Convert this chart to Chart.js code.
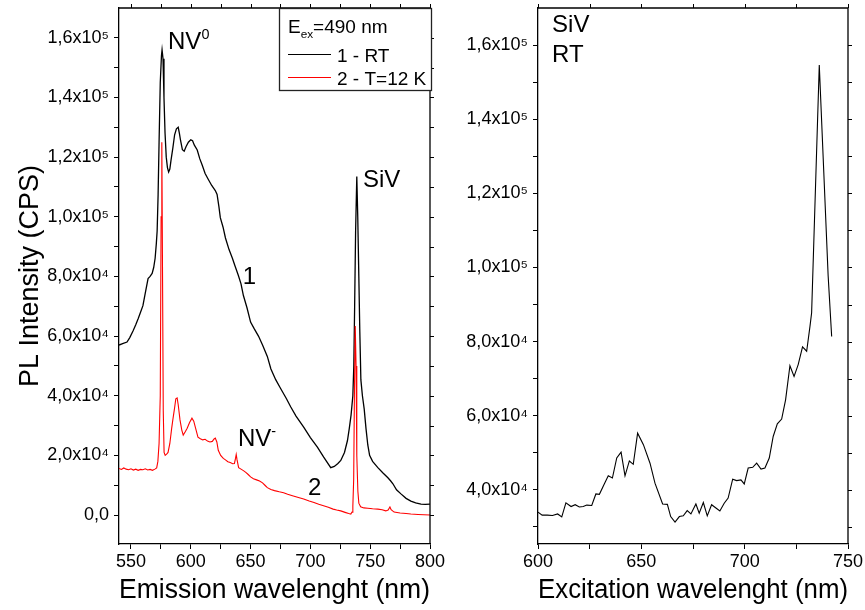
<!DOCTYPE html>
<html>
<head>
<meta charset="utf-8">
<script src="https://cdn.jsdelivr.net/npm/chart.js@4/dist/chart.umd.min.js"></script>
<style>
  html, body { margin: 0; padding: 0; background: #ffffff; }
  #wrap { position: relative; width: 865px; height: 610px; overflow: hidden; background: #fff; }
  #left { position: absolute; left: 0; top: 0; }
  #right { position: absolute; left: 440px; top: 0; }
</style>
</head>
<body>
<div id="wrap">
  <canvas id="right" width="425" height="610"></canvas>
  <canvas id="left" width="460" height="610"></canvas>
</div>
<script>
// ---------------- DATA ----------------
// Curve 1 - RT (emission spectrum)
const rtNm = [540,543,546.7,549,551.7,554,556,558,560,562,564.3,566,567.7,569,570.2,571.2,571.9,572.7,573.5,574.5,575.5,576,576.8,577.6,578.5,579.5,580.5,581.5,582.5,583.5,585,586.5,588,589.5,590.5,591.5,593,594.5,596,598,600,601.5,603,605.4,607.5,609.6,612,614.7,617.5,620.5,622,623.5,624.7,627,629,632,634.8,637,639.8,642,644,647,650,653,656.6,660,664,667,671,675,680,683.5,688,694.4,700,706,711,717,720,723,725.4,728.5,731,732.5,734,735.5,736.3,737,737.8,738.8,739.6,740.5,741.3,742.2,743.5,745,746.5,748,749.5,752,756.4,760.5,764.8,767,769,772,775.7,780,784,788,792.5,796,800];
const rtCps = [57000,57500,58000,59500,61700,63800,65800,68000,70200,74500,79300,80000,81000,83000,86100,91000,95300,107500,125000,145000,154000,156000,153000,140000,128000,120000,116500,115000,116000,119000,123000,127500,129500,130000,128000,125500,122500,122000,123500,125000,125800,125500,124000,122400,119500,117300,114500,112500,110500,108800,107500,103500,99700,96500,92900,89000,86100,83500,80300,77500,73600,69500,64700,62500,60000,57000,53200,49000,45400,42500,39000,36300,33200,29500,26000,22700,19500,15900,16300,17300,18300,21000,25000,29000,33500,40000,50000,70000,95000,113500,100000,80000,62000,45400,40000,35500,29000,23500,20000,18000,15900,14200,12500,11500,10500,8500,7100,5600,4700,4100,3700,3600,3700];
// Curve 2 - T=12 K (emission spectrum)
const lowTNm = [540,542,544,546,548,550,552,554,556,558,560,562,564,566,568,570,571.5,572.5,573.5,574.5,575.2,575.8,576.4,577,577.7,578.6,580,581,582.5,584,585,586.5,587.5,588.6,589.5,591,592.5,593.7,595.5,597,599,601,602.5,603.8,606,608,610,612,614,616,618,619.5,620.5,621.8,623,625,627.2,629,631,633,635,636.5,637.4,638,638.7,640,642,644,646,648,650,652.4,655,657.5,660,662,664,667,670,674,677.6,681,685,690,694.4,699,703,707,711,715,719,722,725.4,729,732,733.8,734.8,735.5,736.2,736.8,737.5,738.2,738.8,739.7,740.5,742,744.7,748,752,756.4,760,763,765,766.5,767.5,770,775,780,784,790,795,800];
const lowTCps = [15600,15300,15800,15400,15200,15500,15100,15400,15000,15300,15200,15500,15100,15300,15000,15400,15800,18000,24000,40000,100000,125000,80000,35000,21000,20000,20500,21000,24000,29000,31900,36000,39000,39300,37000,31900,28500,26800,28000,29100,31000,32500,31500,29500,26100,25600,25200,25400,24800,24500,24700,25500,25800,24500,21700,20000,19000,18500,17900,17600,17200,17300,19000,20300,18500,15900,15400,14900,14300,13600,12800,12200,11800,11400,10800,10000,9200,8600,8200,7800,7500,7000,6500,5900,5400,4700,4200,3600,3100,2600,2000,1700,1400,900,500,340,1000,3000,12000,40000,63400,50000,20000,8000,4000,2800,2400,2300,2100,2000,1800,1400,1700,2700,1800,1000,700,500,340,200,100,0];
// SiV RT excitation spectrum
const excNm = [600,602,604.5,607,609.5,611.5,613.5,616,618,620,621.9,623.6,626,628,629.7,631.9,634,636,638.1,640.2,642.1,644.2,646.1,648.2,651,654.2,656.6,660.3,662.6,664.2,666.3,668.4,670.3,672.2,674,676.4,678,680,681.9,684,686.1,688,690.1,692,694.2,696.1,698.2,699.8,701.7,703.9,705.8,707.9,709.8,711.9,713.8,715.8,717.9,719.8,721.9,723.9,725.9,728,730,731.6,732.4,736.1,740.4,742.1];
const excCps = [34000,33200,33200,33100,33500,32700,36500,35500,36000,35400,35500,35900,35800,38900,38800,41400,43800,43200,48600,50200,43800,47800,46900,55300,52200,47200,41800,36200,36100,32800,31300,32800,33000,34400,33500,36200,33700,36600,33000,36000,35100,34300,36400,37800,42900,42500,42700,41600,45900,46100,47200,45600,45900,48600,54400,57800,59100,64300,73500,70600,73800,78600,77400,84100,87800,154600,97700,81400];

// Tick values
const emissionMajorTicks = [550,600,650,700,750,800];
const emissionMinorTicks = [575,625,675,725,775];
const excitationMajorTicks = [600,650,700,750];
const excitationMinorTicks = [625,675,725];
const leftMajorTicks = [0,20000,40000,60000,80000,100000,120000,140000,160000];
const leftMinorTicks = [10000,30000,50000,70000,90000,110000,130000,150000];
const rightMajorTicks = [40000,60000,80000,100000,120000,140000,160000];
const rightMinorTicks = [30000,50000,70000,90000,110000,130000,150000];

// Series labels
const seriesLabels = ['1 - RT','2 - T=12 K'];
const legendTitle = [['E',''],['ex','sub'],['=490 nm','']];

// Text annotations (anchored in data space)
const emissionNotes = [
  {parts:[['NV',''],['0','sup']], x:581, y:159000, align:'left'},
  {parts:[['SiV','']], x:743.9, y:113000, align:'left'},
  {parts:[['1','']], x:649, y:80400, align:'center'},
  {parts:[['NV',''],['-','sup']], x:639.5, y:26000, align:'left'},
  {parts:[['2','']], x:703.6, y:9700, align:'center'}
];
const excitationNotes = [
  {parts:[['SiV','']], x:606.8, y:165800, align:'left'},
  {parts:[['RT','']], x:606.8, y:157700, align:'left'}
];

// ---------------- HELPERS ----------------
Chart.defaults.font.family = "'Liberation Sans', Arial, Helvetica, sans-serif";
Chart.defaults.color = '#000';
const FONT = "'Liberation Sans', Arial, Helvetica, sans-serif";
const SUP = {'0':'\u2070','1':'\u00B9','2':'\u00B2','3':'\u00B3','4':'\u2074','5':'\u2075','6':'\u2076','7':'\u2077','8':'\u2078','9':'\u2079'};
function sciLabel(v) {
  if (v === 0) return '0,0';
  const e = Math.floor(Math.log10(v) + 1e-9);
  const m = v / Math.pow(10, e);
  return m.toFixed(1).replace('.', ',') + 'x10' + String(e).split('').map(c => SUP[c]).join('');
}
function xy(xs, ys) { return xs.map((x, i) => ({x: x, y: ys[i]})); }

function drawRich(ctx, x, yMid, parts, size, align) {
  const pieces = parts.map(p => {
    const kind = p[1];
    const fs = kind === 'sup' ? size * 0.6 : (kind === 'sub' ? size * 0.62 : size);
    ctx.font = fs + 'px ' + FONT;
    return {t: p[0], kind: kind, fs: fs, w: ctx.measureText(p[0]).width};
  });
  const total = pieces.reduce((s, p) => s + p.w, 0);
  let cx = align === 'center' ? x - total / 2 : (align === 'right' ? x - total : x);
  const base = yMid + 0.36 * size;
  ctx.textAlign = 'left';
  ctx.textBaseline = 'alphabetic';
  ctx.fillStyle = '#000';
  pieces.forEach(p => {
    ctx.font = p.fs + 'px ' + FONT;
    let by = base;
    if (p.kind === 'sup') by = base - 0.42 * size;
    if (p.kind === 'sub') by = base + 0.28 * size;
    ctx.fillText(p.t, cx, by);
    cx += p.w + (p.kind === 'sup' ? 1 : 0);
  });
}

const decorPlugin = {
  id: 'decor',
  afterDatasetsDraw(chart, args, opts) {
    const ctx = chart.ctx, a = chart.chartArea, xs = chart.scales.x, ys = chart.scales.y;
    ctx.save();
    ctx.strokeStyle = '#000';
    ctx.lineWidth = 1.3;
    ctx.beginPath();
    ctx.moveTo(a.left, a.top); ctx.lineTo(a.right, a.top); ctx.lineTo(a.right, a.bottom);
    ctx.stroke();
    ctx.lineWidth = 1;
    xs.ticks.forEach(t => {
      const px = Math.round(xs.getPixelForValue(t.value)) + 0.5;
      ctx.beginPath(); ctx.moveTo(px, a.top); ctx.lineTo(px, a.top - 4); ctx.stroke();
    });
    ys.ticks.forEach(t => {
      const py = Math.round(ys.getPixelForValue(t.value)) + 0.5;
      ctx.beginPath(); ctx.moveTo(a.right, py); ctx.lineTo(a.right + 4, py); ctx.stroke();
    });
    (opts.notes || []).forEach(n => {
      drawRich(ctx, xs.getPixelForValue(n.x), ys.getPixelForValue(n.y), n.parts, opts.noteSize || 24, n.align);
    });
    if (opts.legend) {
      const w = 153, h = 83;
      const bx = a.right + 2 - w, by = a.top;
      ctx.fillStyle = '#fff';
      ctx.fillRect(bx, by, w, h);
      ctx.strokeStyle = '#222';
      ctx.lineWidth = 1.3;
      ctx.strokeRect(bx + 0.5, by + 0.5, w - 1, h - 1);
      drawRich(ctx, bx + 9, by + 18, legendTitle, 19, 'left');
      chart.data.datasets.forEach((ds, i) => {
        const ly = by + 46 + i * 23;
        ctx.strokeStyle = ds.borderColor;
        ctx.lineWidth = 1.2;
        ctx.beginPath(); ctx.moveTo(bx + 9, ly + 0.5); ctx.lineTo(bx + 52, ly + 0.5); ctx.stroke();
        drawRich(ctx, bx + 58, ly + 1, [[ds.label, '']], 19, 'left');
      });
    }
    ctx.restore();
  }
};

function xAxis(min, max, major, minor, title) {
  return {
    type: 'linear', position: 'bottom', min: min, max: max,
    afterBuildTicks: s => { s.ticks = major.concat(minor).sort((p, q) => p - q).map(v => ({value: v})); },
    afterFit: s => { s.height = 66; s.paddingLeft = 0; s.paddingRight = 0; },
    ticks: {autoSkip: false, maxRotation: 0, minRotation: 0, padding: 2, color: '#000',
      font: {size: 18}, callback: v => major.includes(v) ? String(v) : ''},
    grid: {display: true, drawOnChartArea: false, drawTicks: true, tickLength: 5, color: '#000', lineWidth: 1},
    border: {display: true, color: '#000', width: 1.3},
    title: {display: true, text: title, color: '#000', font: {size: 27, lineHeight: 1.2}, padding: {top: 0, bottom: 3}}
  };
}
function yAxis(min, max, major, minor, width, title) {
  const ax = {
    type: 'linear', position: 'left', min: min, max: max,
    afterBuildTicks: s => { s.ticks = major.concat(minor).sort((p, q) => p - q).map(v => ({value: v})); },
    afterFit: s => { s.width = width; s.paddingTop = 0; s.paddingBottom = 0; },
    ticks: {autoSkip: false, padding: 5, color: '#000', font: {size: 18},
      callback: v => major.includes(v) ? sciLabel(v) : ''},
    grid: {display: true, drawOnChartArea: false, drawTicks: true, tickLength: 5, color: '#000', lineWidth: 1},
    border: {display: true, color: '#000', width: 1.3},
    title: {display: false}
  };
  if (title) ax.title = {display: true, text: title, color: '#000', font: {size: 27, lineHeight: 1.2}, padding: {top: 14, bottom: 0}};
  return ax;
}

// ---------------- LEFT CHART ----------------
new Chart(document.getElementById('left'), {
  type: 'line',
  data: {
    datasets: [
      {label: seriesLabels[0], data: xy(rtNm, rtCps), borderColor: '#000000', borderWidth: 1.3, pointRadius: 0, tension: 0, fill: false, order: 2},
      {label: seriesLabels[1], data: xy(lowTNm, lowTCps), borderColor: '#ff0000', borderWidth: 1.1, pointRadius: 0, tension: 0, fill: false, order: 1}
    ]
  },
  options: {
    responsive: false, animation: false, devicePixelRatio: 1,
    layout: {padding: {left: 0, right: 30, top: 8, bottom: 0}},
    scales: {
      x: xAxis(540, 800, emissionMajorTicks, emissionMinorTicks, 'Emission wavelenght (nm)'),
      y: yAxis(-9700, 170000, leftMajorTicks, leftMinorTicks, 119, 'PL Intensity (CPS)')
    },
    plugins: {
      legend: {display: false}, tooltip: {enabled: false},
      decor: {notes: emissionNotes, noteSize: 24, legend: true}
    }
  },
  plugins: [decorPlugin]
});

// ---------------- RIGHT CHART ----------------
new Chart(document.getElementById('right'), {
  type: 'line',
  data: {
    datasets: [
      {label: 'SiV RT', data: xy(excNm, excCps), borderColor: '#000000', borderWidth: 1.1, pointRadius: 0, tension: 0, fill: false}
    ]
  },
  options: {
    responsive: false, animation: false, devicePixelRatio: 1,
    layout: {padding: {left: 0, right: 17, top: 8, bottom: 0}},
    scales: {
      x: xAxis(600, 750, excitationMajorTicks, excitationMinorTicks, 'Excitation wavelenght (nm)'),
      y: yAxis(25400, 170000, rightMajorTicks, rightMinorTicks, 98, null)
    },
    plugins: {
      legend: {display: false}, tooltip: {enabled: false},
      decor: {notes: excitationNotes, noteSize: 24, legend: false}
    }
  },
  plugins: [decorPlugin]
});
</script>
</body>
</html>
